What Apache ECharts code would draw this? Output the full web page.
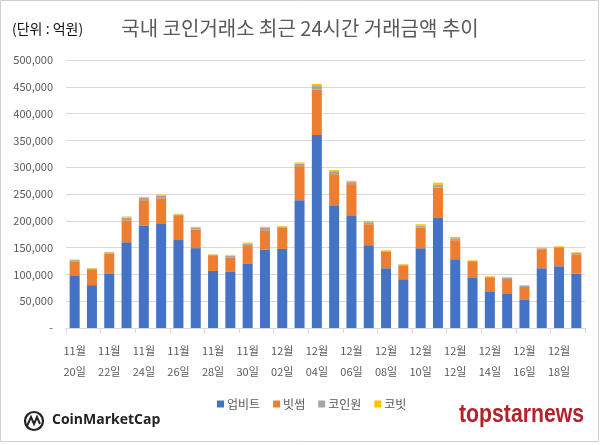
<!DOCTYPE html>
<html><head><meta charset="utf-8">
<script src="https://cdn.jsdelivr.net/npm/echarts@6/dist/echarts.min.js"></script>
<style>html,body{margin:0;padding:0;background:#fff}#c{width:600px;height:445px}</style>
</head><body><div id="c"></div>
<script>
const categories = ["11월\n20일","11월\n21일","11월\n22일","11월\n23일","11월\n24일","11월\n25일","11월\n26일","11월\n27일","11월\n28일","11월\n29일","11월\n30일","12월\n01일","12월\n02일","12월\n03일","12월\n04일","12월\n05일","12월\n06일","12월\n07일","12월\n08일","12월\n09일","12월\n10일","12월\n11일","12월\n12일","12월\n13일","12월\n14일","12월\n15일","12월\n16일","12월\n17일","12월\n18일","12월\n19일"];
const upbit   = [97000,80000,102000,160000,190500,194000,164000,149000,106500,104600,119500,146000,147600,238500,360000,229000,210500,154400,111500,91000,148800,205000,128300,94600,68500,64800,53500,111500,115200,101500];
const bithumb = [27500,28300,37000,41000,48000,48000,45000,34700,28000,27400,33500,36400,39200,63500,85200,58000,58000,39200,31000,25000,38600,57000,35500,28700,25000,26700,23000,35500,34200,36000];
const coinone = [2200,2600,2200,5000,4500,4600,2800,3200,2200,2600,4500,4300,2200,4400,6200,5600,4300,3800,1700,2200,3600,5000,3700,2200,2200,2600,2300,1700,2000,2600];
const korbit  = [1000,1100,900,2000,1700,2400,1200,1800,900,1100,1900,2000,1000,2400,3800,1900,1900,2500,800,1000,2600,4000,2500,900,900,1200,1400,1300,1100,1100];
const seriesNames = ["업비트","빗썸","코인원","코빗"];
const colors = ["#4472C4","#ED7D31","#A5A5A5","#FFC000"];
const yMax = 500000, yStep = 50000;

const chart = echarts.init(document.getElementById('c'), null, {renderer:'canvas'});
const font = "'Noto Sans CJK KR', 'Noto Sans', sans-serif";
const dataSets = [upbit, bithumb, coinone, korbit];
chart.setOption({
  animation:false,
  color: colors,
  textStyle:{fontFamily:font},
  grid:{left:66, right:15, top:60, bottom:117, containLabel:false},
  legend:{
    left:212, top:393, itemWidth:7, itemHeight:7, itemGap:13, icon:'rect',
    textStyle:{fontSize:12, color:'#595959', fontFamily:font, padding:[0,0,0,-2]},
    data: seriesNames
  },
  xAxis:{
    type:'category', data:categories, boundaryGap:true,
    axisLine:{lineStyle:{color:'#d9d9d9'}},
    axisTick:{show:true, interval:1, length:5, lineStyle:{color:'#d9d9d9'}},
    axisLabel:{interval:1, color:'#595959', fontSize:11, lineHeight:21, margin:12, fontFamily:font}
  },
  yAxis:{
    type:'value', min:0, max:yMax, interval:yStep,
    axisLine:{show:false}, axisTick:{show:false},
    splitLine:{lineStyle:{color:'#d9d9d9'}},
    axisLabel:{color:'#595959', fontSize:11, margin:13, fontFamily:font,
      formatter: v => v === 0 ? '-' : v.toLocaleString('en-US')}
  },
  series: seriesNames.map((n,i)=>({
    name:n, type:'bar', stack:'total', barWidth:10, data:dataSets[i],
    itemStyle:{color:colors[i]}
  })),
  graphic:[
    {type:'rect', shape:{x:0.5,y:0.5,width:598,height:441}, style:{fill:null, stroke:'#d0d0d0', lineWidth:1}, silent:true},
    {type:'text', left:12, top:22, style:{text:'(단위 : 억원)', fontSize:14, fill:'#111', fontFamily:font}},
    {type:'text', left:'center', top:18, style:{text:'국내 코인거래소 최근 24시간 거래금액 추이', fontSize:20, fill:'#595959', fontFamily:font}},
    {type:'circle', shape:{cx:34, cy:421, r:9}, style:{fill:null, stroke:'#222', lineWidth:2.2}},
    {type:'polyline', shape:{points:[[27,426],[31,417],[34,424],[37,417],[40,424]]}, style:{fill:null, stroke:'#222', lineWidth:2}},
    {type:'text', left:52, top:413, style:{text:'CoinMarketCap', fontSize:14, fontWeight:'bold', fill:'#222', fontFamily:"'Open Sans', sans-serif"}},
    {type:'text', x:459, y:403, scaleX:0.85, style:{text:'topstarnews', fontSize:25, fontWeight:'bold', fill:'#b3232c', fontFamily:"'Liberation Sans', sans-serif"}}
  ]
});
</script></body></html>
